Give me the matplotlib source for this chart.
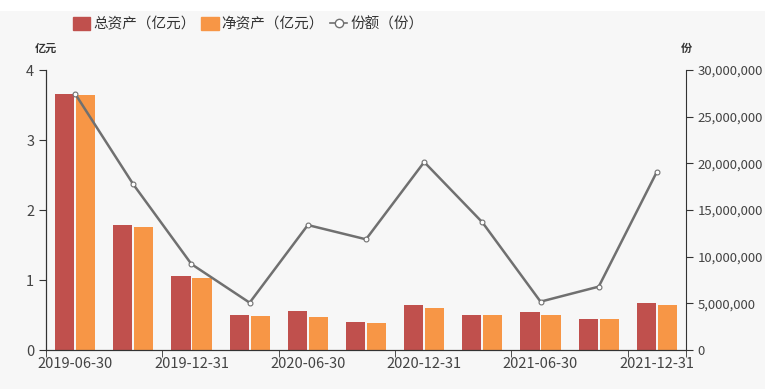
import matplotlib.pyplot as plt
from matplotlib.patches import Rectangle
from matplotlib.lines import Line2D
from matplotlib.ticker import FuncFormatter, FixedLocator

plt.rcParams['font.family'] = ['Noto Sans CJK SC', 'DejaVu Sans']

dates = ["2019-06-30", "2019-09-30", "2019-12-31", "2020-03-31", "2020-06-30",
         "2020-09-30", "2020-12-31", "2021-03-31", "2021-06-30", "2021-09-30",
         "2021-12-31"]
total_assets = [3.66, 1.78, 1.06, 0.50, 0.56, 0.40, 0.64, 0.50, 0.55, 0.44, 0.67]
net_assets = [3.64, 1.76, 1.03, 0.49, 0.47, 0.39, 0.60, 0.50, 0.50, 0.44, 0.65]
shares = [27460000, 17750000, 9200000, 5070000, 13390000, 11860000,
          20140000, 13680000, 5180000, 6790000, 19100000]

bg = '#f7f7f7'
fig = plt.figure(figsize=(7.65, 3.89), dpi=100, facecolor='white')
fig.patches.append(Rectangle((0, 0), 1, 1 - 11/389, transform=fig.transFigure,
                             facecolor=bg, edgecolor='none', zorder=-10))

ax = fig.add_axes([46/765, 39/389, 640/765, 280/389])
ax.set_facecolor(bg)
ax.patch.set_alpha(0)
x = list(range(len(dates)))
ax.bar([i - 0.18 for i in x], total_assets, width=0.33, color='#c0504d', zorder=2)
ax.bar([i + 0.18 for i in x], net_assets, width=0.33, color='#f79646', zorder=2)
ax.set_xlim(-0.5, len(dates) - 0.5)
ax.set_ylim(0, 4)
ax.set_yticks([0, 1, 2, 3, 4])

ax.xaxis.set_major_locator(FixedLocator(x[::2]))
ax.set_xticklabels(dates[::2])
ax.xaxis.set_minor_locator(FixedLocator([i - 0.5 for i in x[::2]] + [len(dates) - 0.5]))
ax.tick_params(axis='x', which='major', length=0, pad=5, labelsize=10.5)
ax.tick_params(axis='x', which='minor', length=5, color='#333333')
ax.tick_params(axis='y', length=5, color='#333333', labelsize=10.5)
ax.tick_params(labelcolor='#444444')

ax2 = ax.twinx()
ax2.plot(x, shares, color='#707070', lw=1.8, marker='o', ms=3.5,
         mfc='white', mec='#707070', mew=0.8, zorder=3)
ax2.set_ylim(0, 30000000)
ax2.set_yticks(range(0, 30000001, 5000000))
ax2.yaxis.set_major_formatter(FuncFormatter(lambda v, p: f"{int(v):,}"))
ax2.tick_params(axis='y', length=5, color='#333333', labelsize=9.5, labelcolor='#444444')

for a in (ax, ax2):
    a.spines['top'].set_visible(False)
    for s in ('left', 'right', 'bottom'):
        a.spines[s].set_color('#333333')
ax.spines['right'].set_visible(False)

fig.text(46/765, 1 - 48/389, "亿元", ha='center', va='center', fontsize=8,
         fontweight='bold', color='#333333')
fig.text(686/765, 1 - 48/389, "份", ha='center', va='center', fontsize=8,
         fontweight='bold', color='#333333')

handles = [Rectangle((0, 0), 1, 1, color='#c0504d'),
           Rectangle((0, 0), 1, 1, color='#f79646'),
           Line2D([], [], color='#707070', lw=1.2, marker='o', ms=6,
                  mfc='white', mec='#707070')]
fig.legend(handles, ["总资产（亿元）", "净资产（亿元）", "份额（份）"],
           loc='center', bbox_to_anchor=(248/765, 1 - 24/389), ncol=3, frameon=False,
           fontsize=10.5, handlelength=1.2, handleheight=1.0, handletextpad=0.2,
           columnspacing=0.4, labelcolor='#333333')

fig.savefig("out.png", dpi=100, facecolor=fig.get_facecolor())
